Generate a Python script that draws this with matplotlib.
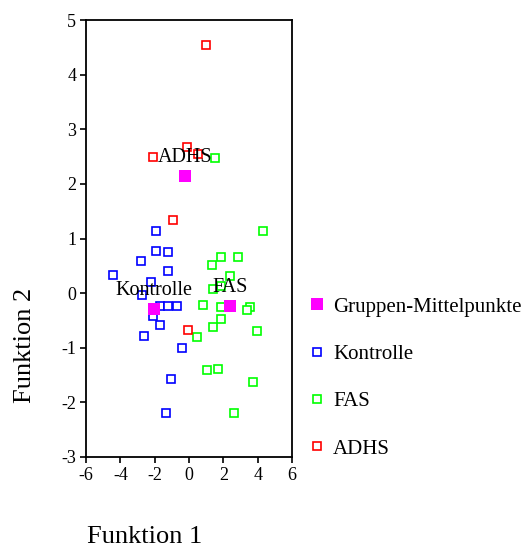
import matplotlib
matplotlib.use('Agg')
import matplotlib.pyplot as plt
from matplotlib.lines import Line2D

plt.rcParams['font.family'] = ['Liberation Serif', 'DejaVu Serif']
plt.rcParams['axes.unicode_minus'] = False

# Diskriminanzfunktionen: Werte je Gruppe
kontrolle_x = [-1.92, -1.92, -1.22, -2.82, -4.41, -1.22, -2.22, -2.74, -1.67, -1.21,
               -0.70, -2.12, -1.67, -2.64, -0.43, -1.07, -1.32]
kontrolle_y = [1.14, 0.78, 0.75, 0.59, 0.34, 0.40, 0.20, -0.04, -0.23, -0.23,
               -0.23, -0.42, -0.59, -0.78, -1.00, -1.58, -2.20]

fas_x = [1.52, 4.33, 1.87, 2.84, 1.32, 2.39, 1.89, 1.38, 0.82, 1.87,
         3.56, 3.36, 1.87, 1.42, 3.98, 0.45, 1.05, 1.69, 3.71, 2.64]
fas_y = [2.48, 1.14, 0.67, 0.67, 0.51, 0.31, 0.13, 0.07, -0.21, -0.26,
         -0.25, -0.31, -0.48, -0.62, -0.70, -0.81, -1.41, -1.39, -1.63, -2.20]

adhs_x = [1.00, -2.10, -0.10, 0.52, -0.93, -0.06]
adhs_y = [4.54, 2.49, 2.68, 2.54, 1.34, -0.68]

# Gruppen-Mittelpunkte
groups = ['Kontrolle', 'FAS', 'ADHS']
center_x = [-2.02, 2.39, -0.25]
center_y = [-0.29, -0.23, 2.15]

fig = plt.figure(figsize=(5.23, 5.5), dpi=100)
ax = fig.add_axes([0.1644, 0.1691, 0.3939, 0.7945])

ms = 5.5
mew = 1.2
ax.plot(kontrolle_x, kontrolle_y, 's', ms=ms, mfc='white', mec='#0000ff', mew=mew, zorder=3)
ax.plot(fas_x, fas_y, 's', ms=ms, mfc='white', mec='#00ff00', mew=mew, zorder=3)
ax.plot(adhs_x, adhs_y, 's', ms=ms, mfc='white', mec='#ff0000', mew=mew, zorder=3)
ax.plot(center_x, center_y, 's', ms=8.5, color='#ff00ff', mew=0, zorder=4)

for g, cx, cy in zip(groups, center_x, center_y):
    ax.annotate(g, (cx, cy), xytext=(0, 13), textcoords='offset points',
                ha='center', va='center', fontsize=14.5, zorder=5)

ax.set_xlim(-6, 6)
ax.set_ylim(-3, 5)
ax.set_xticks(range(-6, 7, 2))
ax.set_yticks(range(-3, 6))
ax.tick_params(direction='out', length=4, width=1.2, labelsize=13, pad=3)
for s in ax.spines.values():
    s.set_linewidth(1.3)

fig.text(0.277, 0.024, 'Funktion 1', fontsize=19, ha='center', va='center')
fig.text(0.048, 0.372, 'Funktion 2', fontsize=19, ha='center', va='center', rotation=90)

handles = [
    Line2D([], [], ls='none', marker='s', ms=8, color='#ff00ff', mew=0),
    Line2D([], [], ls='none', marker='s', ms=5.5, mfc='white', mec='#0000ff', mew=mew),
    Line2D([], [], ls='none', marker='s', ms=5.5, mfc='white', mec='#00ff00', mew=mew),
    Line2D([], [], ls='none', marker='s', ms=5.5, mfc='white', mec='#ff0000', mew=mew),
]
labels = ['Gruppen-Mittelpunkte', 'Kontrolle', 'FAS', 'ADHS']
fig.legend(handles, labels, loc='upper left', bbox_to_anchor=(0.575, 0.475),
           frameon=False, fontsize=15, labelspacing=1.33, handlelength=0.8,
           handletextpad=0.36, borderaxespad=0)

fig.savefig('out.png', dpi=100)
